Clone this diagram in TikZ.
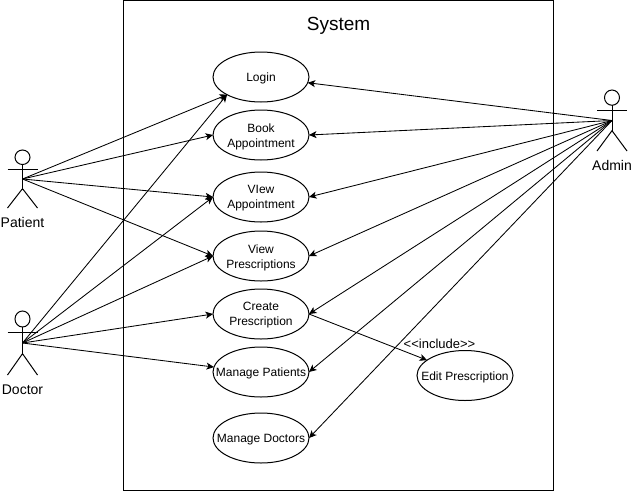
\documentclass[tikz,border=0pt]{standalone}
\usepackage{fontspec}
\setmainfont{Liberation Sans}
\usetikzlibrary{arrows.meta,positioning,shapes.geometric}

\begin{document}
\begin{tikzpicture}[
  x=1pt, y=-1pt,
  line width=1pt,
  font=\fontsize{12}{15}\selectfont,
  >={Stealth[length=7.5pt,width=7pt,inset=2pt]},
  usecase/.style={draw, ellipse, minimum width=96pt, minimum height=50pt,
    inner sep=0pt, outer sep=0pt, label={[align=center, yshift=-1.5pt]center:#1}},
  actorname/.style={font=\fontsize{14}{17}\selectfont},
  stickman/.pic={
    \draw (0,-22.5) circle[radius=7.5pt];
    \draw (0,-15) -- (0,10);
    \draw (-15,-10) -- (15,-10);
    \draw (-15,30) -- (0,10) -- (15,30);
  },
  uses/.style={->, line width=0.85pt},
]
\useasboundingbox (0,0) rectangle (632,491);

\node[draw, minimum width=430pt, minimum height=490pt, inner sep=0pt, outer sep=0pt,
  anchor=north west] (system) at (123.5,0.5) {};
\node[font=\fontsize{19}{23}\selectfont, below=13pt of system.north] (systitle) {System};

% use cases
\node[usecase=Login] (login) at (261,77) {};
\node[usecase={Book\\Appointment}, below=8pt of login] (book) {};
\node[usecase={VIew\\Appointment}, below=12pt of book] (viewapp) {};
\node[usecase={View\\Prescriptions}, below=9pt of viewapp] (viewpre) {};
\node[usecase={Create\\Prescription}, below=8pt of viewpre] (create) {};
\node[usecase={Manage Patients}, below=8pt of create] (patients) {};
\node[usecase={Manage Doctors}, below=16pt of patients] (doctors) {};
\node[usecase={Edit Prescription}] (edit) at (465,375.5) {};
\node[font=\fontsize{13}{15}\selectfont] (incl) at (439.5,343.5) {<{}<include>{}>};

% actors
\coordinate (patient) at (22.5,179);
\coordinate (doctor) at (22.5,343);
\coordinate (admin) at (612,120.5);
\pic[yscale=58/60] at (patient) {stickman};
\pic[yscale=64/60] at (doctor) {stickman};
\pic[yscale=61/60] at (admin) {stickman};
\node[actorname] (patientlbl) at (22.5,222.5) {Patient};
\node[actorname] (doctorlbl) at (22.5,390) {Doctor};
\node[actorname] (adminlbl) at (612,165) {Admin};

\foreach \uc/\anc in {login/south west, book/west, viewapp/west, viewpre/west}
  \draw[uses] (patient) -- (\uc.\anc);
\foreach \uc/\anc in {login/south west, viewapp/west, viewpre/west, create/west, patients/174}
  \draw[uses] (doctor) -- (\uc.\anc);
\foreach \uc/\anc in {login/-7, book/east, viewapp/east, viewpre/east, create/east, patients/east, doctors/east}
  \draw[uses] (admin) -- (\uc.\anc);
\draw[uses] (create.east) -- (edit.158);
\end{tikzpicture}
\end{document}
